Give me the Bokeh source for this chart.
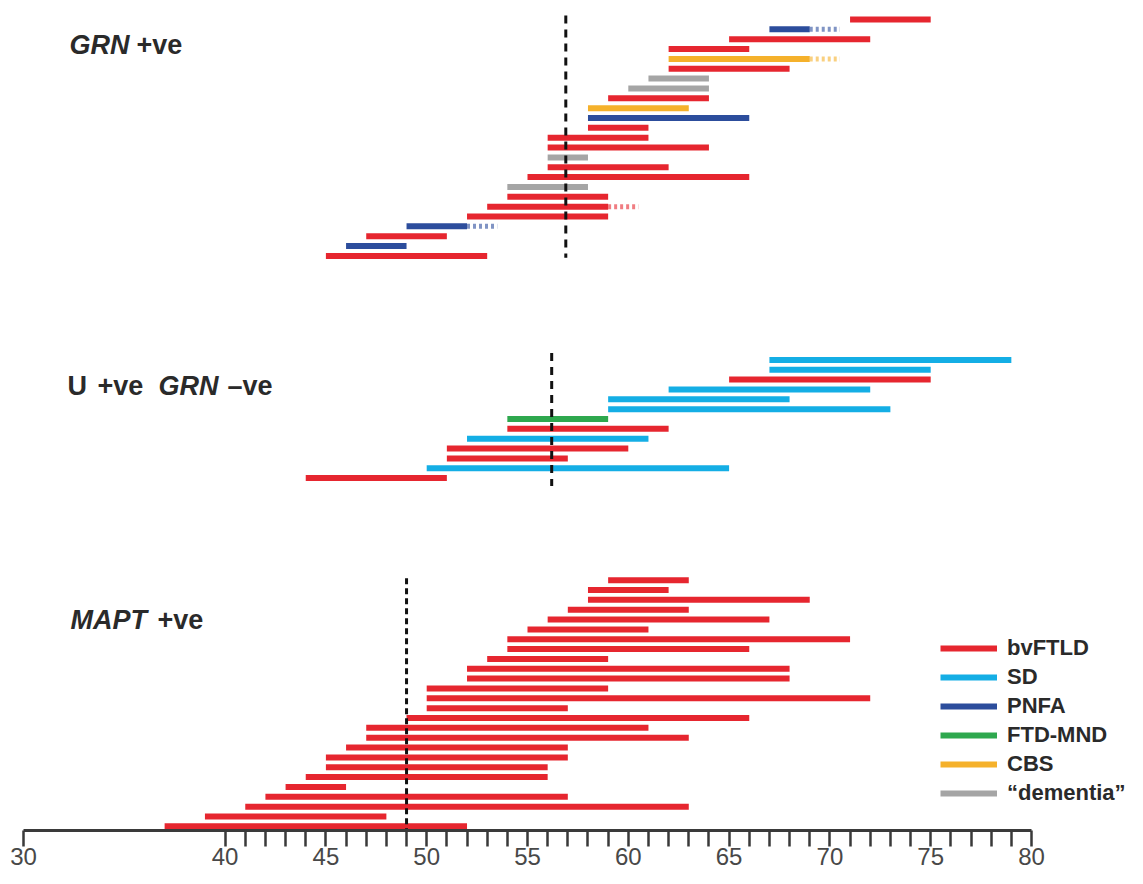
from bokeh.plotting import figure
from bokeh.models import ColumnDataSource, Range1d, FixedTicker, Legend, LegendItem, Label
from bokeh.embed import file_html
from bokeh.resources import INLINE

# ---------------- data ----------------
grn_onset = [71, 67, 65, 62, 62, 62, 61, 60, 59, 58, 58, 58, 56, 56, 56, 56, 55, 54, 54, 53, 52, 49, 47, 46, 45]
grn_end = [75, 69, 72, 66, 69, 68, 64, 64, 64, 63, 66, 61, 61, 64, 58, 62, 66, 58, 59, 59, 59, 52, 51, 49, 53]
grn_dx = ["bvFTLD", "PNFA", "bvFTLD", "bvFTLD", "CBS", "bvFTLD", "dementia", "dementia", "bvFTLD", "CBS",
          "PNFA", "bvFTLD", "bvFTLD", "bvFTLD", "dementia", "bvFTLD", "bvFTLD", "dementia", "bvFTLD", "bvFTLD",
          "bvFTLD", "PNFA", "bvFTLD", "PNFA", "bvFTLD"]
grn_ext = [None, 70.5, None, None, 70.5, None, None, None, None, None, None, None, None, None, None, None,
           None, None, None, 60.5, None, 53.5, None, None, None]

u_onset = [67, 67, 65, 62, 59, 59, 54, 54, 52, 51, 51, 50, 44]
u_end = [79, 75, 75, 72, 68, 73, 59, 62, 61, 60, 57, 65, 51]
u_dx = ["SD", "SD", "bvFTLD", "SD", "SD", "SD", "FTD-MND", "bvFTLD", "SD", "bvFTLD", "bvFTLD", "SD", "bvFTLD"]
u_ext = [None] * 13

mapt_onset = [59, 58, 58, 57, 56, 55, 54, 54, 53, 52, 52, 50, 50, 50, 49, 47, 47, 46, 45, 45, 44, 43, 42, 41, 39, 37]
mapt_end = [63, 62, 69, 63, 67, 61, 71, 66, 59, 68, 68, 59, 72, 57, 66, 61, 63, 57, 57, 56, 56, 46, 57, 63, 48, 52]
mapt_dx = ["bvFTLD"] * 26
mapt_ext = [None] * 26

mean_onset = [56.9, 56.2, 49.0]   # dashed lines: GRN, U, MAPT

diagnoses = ["bvFTLD", "SD", "PNFA", "FTD-MND", "CBS", "dementia"]
legend_labels = ["bvFTLD", "SD", "PNFA", "FTD-MND", "CBS", "\u201cdementia\u201d"]
colors = {"bvFTLD": "#E6262F", "SD": "#14AEE5", "PNFA": "#2C4D9C", "FTD-MND": "#2EA84E",
          "CBS": "#F5B12B", "dementia": "#A5A5A5"}

tick_values = [30] + list(range(40, 81))

# ---------------- layout (row slots) ----------------
GAP1, GAP2 = 10.56, 10.36
grn_start = 0.0
u_start = grn_start + len(grn_onset) - 1 + GAP1
mapt_start = u_start + len(u_onset) - 1 + GAP2

groups = [(grn_start, grn_onset, grn_end, grn_dx, grn_ext),
          (u_start, u_onset, u_end, u_dx, u_ext),
          (mapt_start, mapt_onset, mapt_end, mapt_dx, mapt_ext)]

rows = {"x0": [], "x1": [], "y": [], "dx": []}
ext = {"x0": [], "x1": [], "y": [], "dx": []}
for start, on, en, dx, ex in groups:
    for i, (a, b, d, e) in enumerate(zip(on, en, dx, ex)):
        rows["x0"].append(a); rows["x1"].append(b); rows["y"].append(start + i); rows["dx"].append(d)
        if e is not None:
            ext["x0"].append(b); ext["x1"].append(e); ext["y"].append(start + i); ext["dx"].append(d)

W, H = 1127, 876
LEFT = 23
BOTTOM = 46
PX_PER_YEAR = 20.16
Y_TOP = -1.929
Y_BOTTOM = 82.34

p = figure(width=W, height=H, output_backend="svg", toolbar_location=None,
           x_range=Range1d(30, 30 + (W - LEFT) / PX_PER_YEAR),
           y_range=Range1d(Y_BOTTOM, Y_TOP),
           y_axis_location=None,
           min_border_left=LEFT, min_border_right=0, min_border_top=0, min_border_bottom=BOTTOM)
p.outline_line_color = None
p.xgrid.visible = False
p.ygrid.visible = False
p.background_fill_color = "white"
p.border_fill_color = "white"

# bars
items = []
for d, lab in zip(diagnoses, legend_labels):
    idx = [k for k, v in enumerate(rows["dx"]) if v == d]
    src = ColumnDataSource({"x0": [rows["x0"][k] for k in idx], "x1": [rows["x1"][k] for k in idx],
                            "y": [rows["y"][k] for k in idx]})
    r = p.segment(x0="x0", x1="x1", y0="y", y1="y", source=src, line_color=colors[d],
                  line_width=6, line_cap="butt")
    items.append(LegendItem(label=lab, renderers=[r]))

# dashed extensions
for d in diagnoses:
    idx = [k for k, v in enumerate(ext["dx"]) if v == d]
    if not idx:
        continue
    src = ColumnDataSource({"x0": [ext["x0"][k] for k in idx], "x1": [ext["x1"][k] for k in idx],
                            "y": [ext["y"][k] for k in idx]})
    p.segment(x0="x0", x1="x1", y0="y", y1="y", source=src, line_color=colors[d],
              line_width=5, line_dash="3 3", line_alpha=0.6, line_cap="butt")

# mean onset lines
tops = [grn_start - 0.4, u_start - 0.7, mapt_start - 0.2]
bottoms = [grn_start + len(grn_onset) - 1 + 0.2, u_start + len(u_onset) - 1 + 0.8, Y_BOTTOM]
p.segment(x0=mean_onset[:2], x1=mean_onset[:2], y0=tops[:2], y1=bottoms[:2],
          line_color="#111111", line_width=3, line_dash="8 6")
p.segment(x0=mean_onset[2:], x1=mean_onset[2:], y0=tops[2:], y1=bottoms[2:],
          line_color="#111111", line_width=3, line_dash="6 4")

# axis
ax = p.xaxis[0]
ax.ticker = FixedTicker(ticks=tick_values, minor_ticks=[])
ax.major_label_overrides = {t: (str(t) if t % 5 == 0 else "") for t in tick_values}
ax.bounds = (30, 80)
ax.axis_line_width = 3
ax.axis_line_color = "#3a3a3a"
ax.major_tick_line_width = 2.5
ax.major_tick_line_color = "#3a3a3a"
ax.major_tick_out = 16
ax.major_tick_in = 0
ax.minor_tick_line_color = None
ax.major_label_text_font = "Liberation Sans"
ax.major_label_text_font_size = "24px"
ax.major_label_text_color = "#484848"
ax.major_label_standoff = 1

# titles
TITLE_X = 32.23
FONT = "Liberation Sans"
def title(text, y, offset, style):
    p.add_layout(Label(x=TITLE_X, y=y, x_offset=offset, text=text, text_font=FONT, text_font_size="27px",
                       text_font_style=style, text_color="#2a2a2a", text_baseline="middle"))

title("GRN", grn_start + 2.54, 1, "bold italic")
title("+ve", grn_start + 2.54, 68, "bold")
title("U", u_start + 2.64, -1, "bold")
title("+ve", u_start + 2.64, 29, "bold")
title("GRN", u_start + 2.64, 90, "bold italic")
title("\u2013ve", u_start + 2.64, 159, "bold")
title("MAPT", mapt_start + 4.06, 2, "bold italic")
title("+ve", mapt_start + 4.06, 89, "bold")

legend = Legend(items=items, location=(917, 24), orientation="vertical",
                label_text_font=FONT, label_text_font_size="22px", label_text_font_style="bold",
                label_text_color="#2a2a2a", glyph_width=57, glyph_height=26, label_height=26,
                label_standoff=10, spacing=3, padding=0, margin=0,
                border_line_color=None, background_fill_alpha=0)
p.add_layout(legend)

open("out.html", "w").write(file_html(p, INLINE))
